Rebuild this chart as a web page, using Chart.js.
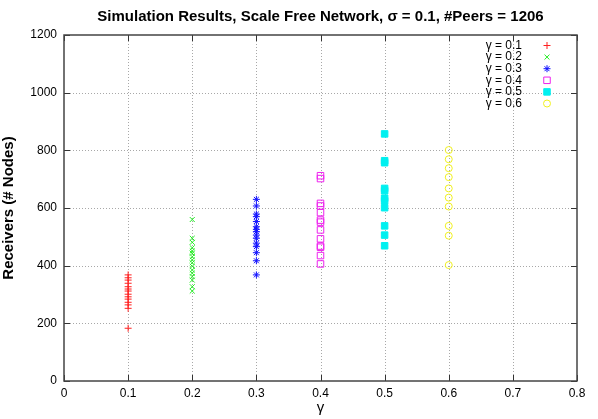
<!DOCTYPE html>
<html>
<head>
<meta charset="utf-8">
<script src="https://cdn.jsdelivr.net/npm/chart.js@4/dist/chart.umd.min.js"></script>
<style>
html,body{margin:0;padding:0;background:#fff;}
#wrap{width:598px;height:419px;position:relative;}
</style>
</head>
<body>
<div id="wrap"><canvas id="c" width="598" height="419"></canvas></div>
<script>
const titleText = 'Simulation Results, Scale Free Network, \u03C3 = 0.1, #Peers = 1206';
const xAxisTitle = '\u03B3';
const yAxisTitle = 'Receivers (# Nodes)';
const xTickValues = [0, 0.1, 0.2, 0.3, 0.4, 0.5, 0.6, 0.7, 0.8];
const xTickLabels = ['0', '0.1', '0.2', '0.3', '0.4', '0.5', '0.6', '0.7', '0.8'];
const yTickValues = [0, 200, 400, 600, 800, 1000, 1200];
const yTickLabels = ['0', '200', '400', '600', '800', '1000', '1200'];
const seriesNames = ['\u03B3 = 0.1', '\u03B3 = 0.2', '\u03B3 = 0.3', '\u03B3 = 0.4', '\u03B3 = 0.5', '\u03B3 = 0.6'];
const seriesGamma = [0.1, 0.2, 0.3, 0.4, 0.5, 0.6];
const g01 = [368, 358, 350, 339, 327, 319, 312, 301, 292, 284, 273, 264, 252, 183];
const g02 = [560, 495, 481, 462, 451, 443, 431, 420, 410, 398, 385, 374, 362, 350, 327, 312];
const g03 = [630, 607, 579, 570, 553, 535, 526, 518, 506, 495, 478, 466, 445, 417, 368];
const g04 = [712, 702, 616, 607, 584, 558, 551, 524, 493, 468, 464, 435, 406];
const g05 = [857, 764, 757, 668, 660, 634, 625, 601, 538, 506, 469];
const g06 = [801, 769, 738, 707, 668, 636, 605, 538, 504, 402];
const seriesValues = [g01, g02, g03, g04, g05, g06];
const seriesColors = ['#ff2020', '#22ee22', '#1010ff', '#ee22ee', '#00f0f0', '#f0f020'];
const seriesStyles = ['cross', 'crossRot', 'star', 'rect', 'rect', 'circle'];
const seriesFilled = [false, false, false, false, true, false];
const seriesRadius = [3.5, 3.5, 3.5, 4.6, 4.6, 3.5];

const FONT = '"Liberation Sans", Arial, Helvetica, sans-serif';

const datasets = seriesNames.map((name, i) => ({
  label: name,
  data: seriesValues[i].map(v => ({x: seriesGamma[i], y: v})),
  pointStyle: seriesStyles[i],
  pointRadius: seriesRadius[i],
  pointHoverRadius: seriesRadius[i],
  borderColor: seriesColors[i],
  backgroundColor: seriesFilled[i] ? seriesColors[i] : 'rgba(0,0,0,0)',
  pointBorderWidth: 1,
  borderWidth: 1,
  showLine: false
}));

const framePlugin = {
  id: 'gnuframe',
  beforeDatasetsDraw(chart) {
    const {ctx, chartArea: a, scales} = chart;
    ctx.save();
    ctx.strokeStyle = '#a8a8a8';
    ctx.lineWidth = 1;
    ctx.setLineDash([1, 2]);
    ctx.beginPath();
    xTickValues.forEach(v => {
      if (v === 0 || v === 0.8) return;
      const px = Math.round(scales.x.getPixelForValue(v)) + 0.5;
      ctx.moveTo(px, a.top); ctx.lineTo(px, a.bottom);
    });
    yTickValues.forEach(v => {
      if (v === 0 || v === 1200) return;
      const py = Math.round(scales.y.getPixelForValue(v)) + 0.5;
      ctx.moveTo(a.left, py); ctx.lineTo(a.right, py);
    });
    ctx.stroke();
    ctx.restore();
  },
  afterDatasetsDraw(chart) {
    const {ctx, chartArea: a, scales} = chart;
    ctx.save();
    ctx.strokeStyle = '#333';
    ctx.lineWidth = 1;
    const L = 6;
    ctx.beginPath();
    xTickValues.forEach(v => {
      const px = Math.round(scales.x.getPixelForValue(v)) + 0.5;
      ctx.moveTo(px, a.bottom); ctx.lineTo(px, a.bottom - L);
      ctx.moveTo(px, a.top); ctx.lineTo(px, a.top + L);
    });
    yTickValues.forEach(v => {
      const py = Math.round(scales.y.getPixelForValue(v)) + 0.5;
      ctx.moveTo(a.left, py); ctx.lineTo(a.left + L, py);
      ctx.moveTo(a.right, py); ctx.lineTo(a.right - L, py);
    });
    ctx.stroke();
    ctx.strokeStyle = '#444';
    ctx.lineWidth = 1.5;
    ctx.strokeRect(a.left, a.top, a.right - a.left, a.bottom - a.top);
    // legend
    ctx.font = '12px ' + FONT;
    ctx.textAlign = 'right';
    ctx.textBaseline = 'middle';
    const textRight = 522, markX = 547, y0 = 45.5, dy = 11.6;
    seriesNames.forEach((name, i) => {
      const y = y0 + i * dy;
      ctx.fillStyle = '#000';
      ctx.fillText(name, textRight, y);
      ctx.strokeStyle = seriesColors[i];
      ctx.fillStyle = seriesFilled[i] ? seriesColors[i] : 'rgba(0,0,0,0)';
      ctx.lineWidth = 1;
      Chart.helpers.drawPoint(ctx, {pointStyle: seriesStyles[i], radius: seriesRadius[i], borderWidth: 1}, markX, y);
    });
    // title
    ctx.fillStyle = '#000';
    ctx.textAlign = 'center';
    ctx.font = 'bold 15px ' + FONT;
    ctx.fillText(titleText, (a.left + a.right) / 2, 17);
    ctx.restore();
  }
};

new Chart(document.getElementById('c'), {
  type: 'scatter',
  data: {datasets},
  plugins: [framePlugin],
  options: {
    responsive: false,
    animation: false,
    devicePixelRatio: 1,
    layout: {padding: {top: 35, right: 21, bottom: 0, left: 0}},
    plugins: {legend: {display: false}, title: {display: false}, tooltip: {enabled: false}},
    scales: {
      x: {
        type: 'linear', min: 0, max: 0.8,
        afterFit(s) { s.height = 38; },
        afterBuildTicks(s) { s.ticks = xTickValues.map(v => ({value: v})); },
        ticks: {
          color: '#000', font: {family: FONT, size: 12}, padding: 5,
          callback: (v, i) => xTickLabels[i]
        },
        grid: {display: false, drawTicks: false},
        border: {display: false},
        title: {display: true, text: xAxisTitle, color: '#000', font: {family: FONT, size: 15}, padding: {top: 0, bottom: 2}}
      },
      y: {
        type: 'linear', min: 0, max: 1200,
        afterFit(s) { s.width = 64; },
        afterBuildTicks(s) { s.ticks = yTickValues.map(v => ({value: v})); },
        ticks: {
          color: '#000', font: {family: FONT, size: 12}, padding: 7,
          callback: (v, i) => yTickLabels[i]
        },
        grid: {display: false, drawTicks: false},
        border: {display: false},
        title: {display: true, text: yAxisTitle, color: '#000', font: {family: FONT, size: 15, weight: 'bold'}, padding: {top: 0, bottom: 0}}
      }
    }
  }
});
</script>
</body>
</html>
